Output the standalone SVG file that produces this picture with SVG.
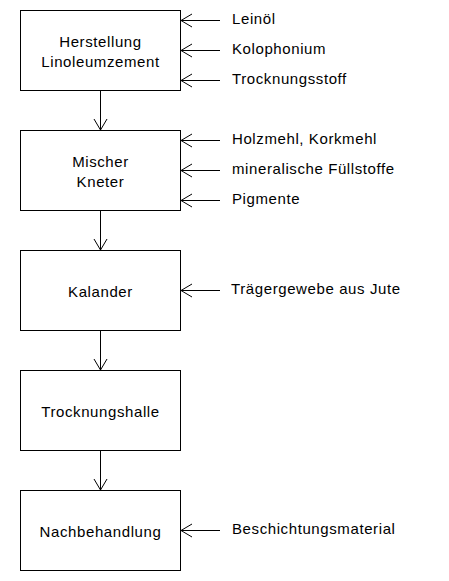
<svg xmlns="http://www.w3.org/2000/svg" width="449" height="581" viewBox="0 0 449 581">
<style>
.box{fill:#fff;stroke:#000;stroke-width:1}
.c{fill:none;stroke:#000;stroke-width:1}
text{font-family:"Liberation Sans",Arial,sans-serif;font-size:15px;letter-spacing:0.6px;fill:#000}
.m{text-anchor:middle}
</style>
<defs>
<marker id="ah" markerUnits="userSpaceOnUse" markerWidth="20" markerHeight="20" viewBox="-14 -10 16 20" refX="0" refY="0" orient="auto">
<path d="M-11,-6.5 L0,0 L-11,6.5" fill="none" stroke="#000" stroke-width="1"/>
</marker>
</defs>
<rect width="449" height="581" fill="#fff"/>
<g id="connectors">
<line class="c" x1="100.5" y1="90.5" x2="100.5" y2="130" marker-end="url(#ah)"/>
<line class="c" x1="100.5" y1="210.5" x2="100.5" y2="250" marker-end="url(#ah)"/>
<line class="c" x1="100.5" y1="330.5" x2="100.5" y2="370" marker-end="url(#ah)"/>
<line class="c" x1="100.5" y1="450.5" x2="100.5" y2="490" marker-end="url(#ah)"/>
<line class="c" x1="220" y1="20.5" x2="181" y2="20.5" marker-end="url(#ah)"/>
<line class="c" x1="220" y1="50.5" x2="181" y2="50.5" marker-end="url(#ah)"/>
<line class="c" x1="220" y1="80.5" x2="181" y2="80.5" marker-end="url(#ah)"/>
<line class="c" x1="220" y1="140.5" x2="181" y2="140.5" marker-end="url(#ah)"/>
<line class="c" x1="220" y1="170.5" x2="181" y2="170.5" marker-end="url(#ah)"/>
<line class="c" x1="220" y1="200.5" x2="181" y2="200.5" marker-end="url(#ah)"/>
<line class="c" x1="220" y1="290.5" x2="181" y2="290.5" marker-end="url(#ah)"/>
<line class="c" x1="220" y1="530.5" x2="181" y2="530.5" marker-end="url(#ah)"/>
</g>
<g id="n1"><rect class="box" x="20.5" y="10.5" width="160" height="80"/>
<text class="m" x="100.5" y="47">Herstellung</text><text class="m" x="100.5" y="67">Linoleumzement</text></g>
<g id="n2"><rect class="box" x="20.5" y="130.5" width="160" height="80"/>
<text class="m" x="100.5" y="167">Mischer</text><text class="m" x="100.5" y="187">Kneter</text></g>
<g id="n3"><rect class="box" x="20.5" y="250.5" width="160" height="80"/>
<text class="m" x="100.5" y="297">Kalander</text></g>
<g id="n4"><rect class="box" x="20.5" y="370.5" width="160" height="80"/>
<text class="m" x="100.5" y="417">Trocknungshalle</text></g>
<g id="n5"><rect class="box" x="20.5" y="490.5" width="160" height="80"/>
<text class="m" x="100.5" y="537">Nachbehandlung</text></g>
<g id="inputs">
<text x="232" y="24">Leinöl</text>
<text x="232" y="54">Kolophonium</text>
<text x="232" y="84">Trocknungsstoff</text>
<text x="232" y="144">Holzmehl, Korkmehl</text>
<text x="232" y="174">mineralische Füllstoffe</text>
<text x="232" y="204">Pigmente</text>
<text x="231" y="294">Trägergewebe aus Jute</text>
<text x="232" y="534">Beschichtungsmaterial</text>
</g>
</svg>
